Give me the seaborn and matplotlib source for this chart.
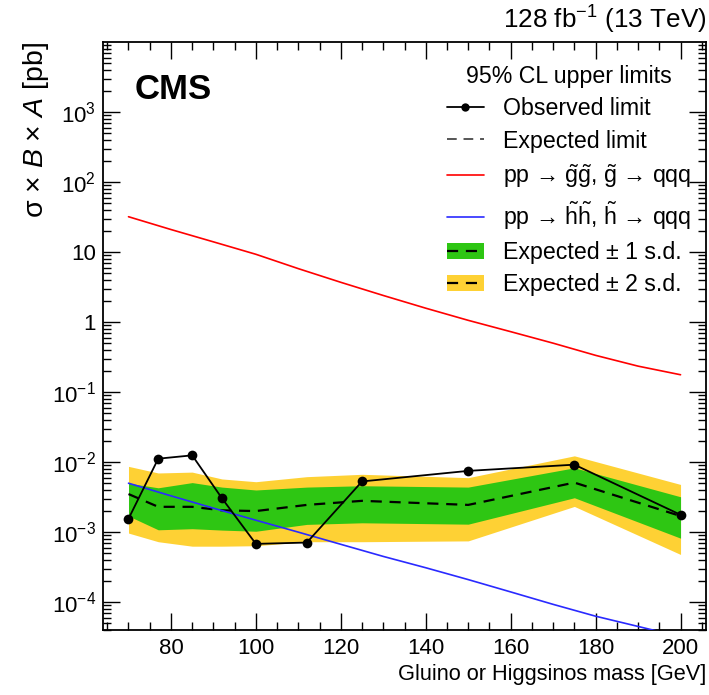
import numpy as np
import pandas as pd
import matplotlib
matplotlib.use("Agg")
from matplotlib import pyplot as plt
import seaborn as sns
from matplotlib.ticker import FixedLocator, FuncFormatter, MultipleLocator, LogLocator, NullFormatter
from matplotlib.patches import Patch
from matplotlib.lines import Line2D

# limit points (mass in GeV, cross sections in pb)
mass = [70, 77, 85, 92, 100, 112, 125, 150, 175, 200]
observed = [1.55e-3, 1.12e-2, 1.25e-2, 3.05e-3, 6.8e-4, 7.1e-4, 5.3e-3, 7.5e-3, 9.2e-3, 1.77e-3]
expected = [3.5e-3, 2.3e-3, 2.3e-3, 2.05e-3, 2.0e-3, 2.45e-3, 2.8e-3, 2.45e-3, 5.1e-3, 1.7e-3]
sd1_lo = [1.7e-3, 1.08e-3, 1.12e-3, 1.07e-3, 1.03e-3, 1.29e-3, 1.36e-3, 1.3e-3, 3.1e-3, 8.2e-4]
sd1_hi = [5.0e-3, 4.3e-3, 5.1e-3, 4.4e-3, 4.0e-3, 4.4e-3, 4.6e-3, 4.4e-3, 8.3e-3, 3.2e-3]
sd2_lo = [9.7e-4, 7.3e-4, 6.3e-4, 6.3e-4, 6.4e-4, 7.3e-4, 7.3e-4, 7.5e-4, 2.33e-3, 4.8e-4]
sd2_hi = [8.7e-3, 7.0e-3, 7.2e-3, 5.75e-3, 5.25e-3, 6.2e-3, 6.7e-3, 6.0e-3, 1.23e-2, 4.8e-3]

# theory curves
xs_mass = [70, 80, 90, 100, 110, 120, 130, 140, 150, 160, 170, 180, 190, 200]
gluino_xs = [32, 21, 14, 9.3, 5.8, 3.7, 2.4, 1.58, 1.06, 0.73, 0.5, 0.335, 0.235, 0.177]
higgsino_xs = [5.0e-3, 3.3e-3, 2.2e-3, 1.48e-3, 1.0e-3, 6.7e-4, 4.5e-4, 3.1e-4, 2.1e-4,
               1.4e-4, 9.3e-5, 6.3e-5, 4.5e-5, 3.2e-5]

y_ticks = [1e-4, 1e-3, 1e-2, 1e-1, 1, 10, 1e2, 1e3]

sns.set_theme()
sns.set_style("ticks")
plt.rcParams['font.family'] = ['Liberation Sans', 'DejaVu Sans']
plt.rcParams['mathtext.fontset'] = 'custom'
plt.rcParams['mathtext.rm'] = 'Liberation Sans'
plt.rcParams['mathtext.it'] = 'Liberation Sans:italic'
plt.rcParams['mathtext.bf'] = 'Liberation Sans:bold'
for k in ['text.color', 'axes.labelcolor', 'xtick.color', 'ytick.color']:
    plt.rcParams[k] = 'black'

GREEN = '#2ec613'
YELLOW = '#fed134'
DASH = (0, (5, 3.5))

lim_df = pd.DataFrame({'mass': mass, 'observed': observed, 'expected': expected})
xs_df = pd.DataFrame({'mass': xs_mass, 'gluino': gluino_xs, 'higgsino': higgsino_xs})

fig = plt.figure(figsize=(7.09, 6.95), dpi=100)
ax = fig.add_axes([0.1453, 0.0935, 0.8505, 0.846])

ax.fill_between(mass, sd2_lo, sd2_hi, color=YELLOW, lw=0, zorder=1)
ax.fill_between(mass, sd1_lo, sd1_hi, color=GREEN, lw=0, zorder=2)
sns.lineplot(data=lim_df, x='mass', y='expected', ax=ax, color='black', lw=1.6,
             linestyle=DASH, zorder=3)
sns.lineplot(data=xs_df, x='mass', y='gluino', ax=ax, color='#ff0000', lw=1.2, zorder=4)
sns.lineplot(data=xs_df, x='mass', y='higgsino', ax=ax, color='#2a2aff', lw=1.2, zorder=4)
sns.lineplot(data=lim_df, x='mass', y='observed', ax=ax, color='black', lw=1.3,
             marker='o', markersize=7, markeredgewidth=0, zorder=5)

ax.set_yscale('log')
ax.set_xlim(64, 206)
ax.set_ylim(4e-5, 1e4)

def yfmt(v, pos):
    e = int(round(np.log10(v)))
    if e == 0:
        return '1'
    if e == 1:
        return '10'
    return r'$10^{%d}$' % e

ax.yaxis.set_major_locator(FixedLocator(y_ticks))
ax.yaxis.set_major_formatter(FuncFormatter(yfmt))
ax.yaxis.set_minor_locator(LogLocator(base=10, subs=np.arange(2, 10), numticks=20))
ax.yaxis.set_minor_formatter(NullFormatter())
ax.xaxis.set_major_locator(MultipleLocator(20))
ax.xaxis.set_minor_locator(MultipleLocator(5))

ax.tick_params(which='both', direction='in', top=True, right=True, labelsize=16,
               color='black', width=1.0)
ax.tick_params(which='major', length=12)
ax.tick_params(which='minor', length=6)
ax.tick_params(axis='x', which='major', pad=6)
ax.tick_params(axis='y', which='major', pad=5)
for sp in ax.spines.values():
    sp.set_linewidth(1.3)
    sp.set_color('black')

ax.set_xlabel('Gluino or Higgsinos mass [GeV]', fontsize=15.7, loc='right', labelpad=3)
ax.set_ylabel(r'σ × $B$ × $A$ [pb]', fontsize=20.5, loc='top', labelpad=1)

ax.text(0.053, 0.92, 'CMS', transform=ax.transAxes, fontsize=25, fontweight='bold',
        ha='left', va='center')
fig.text(0.997, 0.972, r'128 fb$^{-1}$ (13 TeV)', fontsize=18.8, ha='right', va='center')

handles = [
    Line2D([], [], color='black', lw=1.3, marker='o', markersize=6, markeredgewidth=0),
    Line2D([], [], color='#555555', lw=1.4, linestyle=DASH),
    Line2D([], [], color='#ff0000', lw=1.2),
    Line2D([], [], color='#2a2aff', lw=1.2),
    (Patch(facecolor=GREEN, lw=0), Line2D([], [], color='black', lw=1.6, linestyle=DASH)),
    (Patch(facecolor=YELLOW, lw=0), Line2D([], [], color='black', lw=1.6, linestyle=DASH)),
]
labels = [
    'Observed limit',
    'Expected limit',
    r'pp → $\tilde{\mathrm{g}}\tilde{\mathrm{g}}$, $\tilde{\mathrm{g}}$ → qqq',
    r'pp → $\tilde{\mathrm{h}}\tilde{\mathrm{h}}$, $\tilde{\mathrm{h}}$ → qqq',
    'Expected ± 1 s.d.',
    'Expected ± 2 s.d.',
]
leg = ax.legend(handles, labels, title='95% CL upper limits', loc='upper right',
                bbox_to_anchor=(0.975, 0.961), borderpad=0, borderaxespad=0,
                frameon=False, fontsize=16.7, title_fontsize=16.7, handlelength=1.6,
                handletextpad=0.82, labelspacing=0.40)

fig.savefig('out.png', dpi=100)
